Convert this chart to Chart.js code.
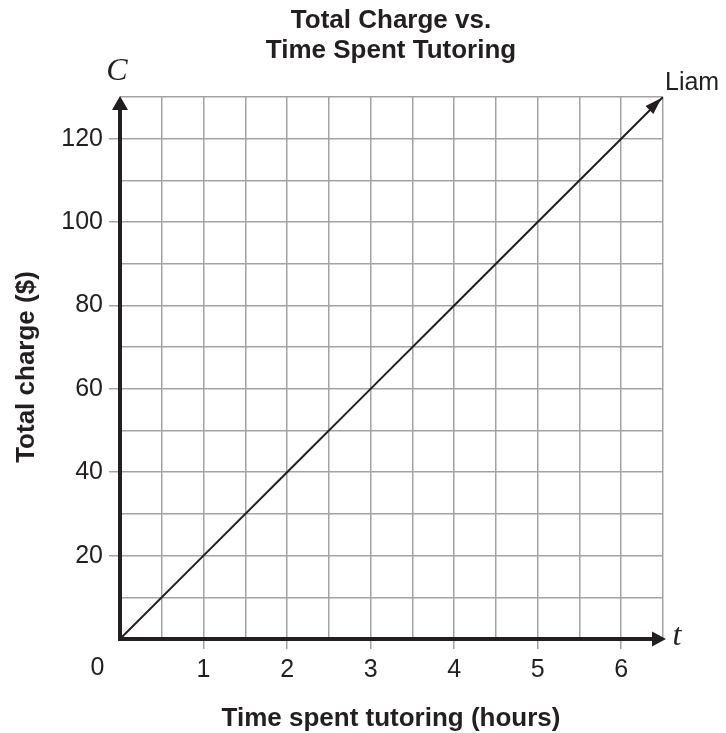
<!DOCTYPE html>
<html>
<head>
<meta charset="utf-8">
<title>Total Charge vs. Time Spent Tutoring</title>
<script src="https://cdn.jsdelivr.net/npm/chart.js@4.4.1/dist/chart.umd.min.js"></script>
<style>
  html, body { margin: 0; padding: 0; background: #fff; }
  canvas { display: block; }
</style>
</head>
<body>
<canvas id="chart" width="726" height="733"></canvas>
<script>
// values: $20 per hour
const hours = [0, 1, 2, 3, 4, 5, 6, 6.5];
const charge = [0, 20, 40, 60, 80, 100, 120, 130];
const xTickLabels = ['1', '2', '3', '4', '5', '6'];
const yTickLabels = ['20', '40', '60', '80', '100', '120'];
const originLabel = '0';
const seriesName = 'Liam';
const titleLines = ['Total Charge vs.', 'Time Spent Tutoring'];
const xTitle = 'Time spent tutoring (hours)';
const yTitle = 'Total charge ($)';
const xVar = 't';
const yVar = 'C';

const ink = '#231f20';
const gridGray = '#a3a3a3';
const sans = "'Liberation Sans', Arial, sans-serif";
const serif = "'Liberation Serif', 'Times New Roman', serif";

Chart.defaults.font.family = sans;
Chart.defaults.color = ink;

function triangle(ctx, tipX, tipY, angle, len, half) {
  ctx.save();
  ctx.translate(tipX, tipY);
  ctx.rotate(angle);
  ctx.beginPath();
  ctx.moveTo(0, 0);
  ctx.lineTo(-len, -half);
  ctx.lineTo(-len, half);
  ctx.closePath();
  ctx.fill();
  ctx.restore();
}

const decorations = {
  id: 'decorations',
  afterDatasetsDraw(chart) {
    const { ctx } = chart;
    const xs = chart.scales.x, ys = chart.scales.y;
    const x0 = xs.getPixelForValue(0), y0 = ys.getPixelForValue(0);
    const xMax = xs.getPixelForValue(xs.max), yMax = ys.getPixelForValue(ys.max);
    ctx.save();
    ctx.strokeStyle = ink;
    ctx.fillStyle = ink;
    ctx.lineWidth = 4;
    // axes with arrows
    ctx.beginPath();
    ctx.moveTo(x0, y0 + 2);
    ctx.lineTo(x0, yMax + 12);
    ctx.stroke();
    triangle(ctx, x0, yMax - 1, -Math.PI / 2, 14, 8);
    ctx.beginPath();
    ctx.moveTo(x0 - 2, y0);
    ctx.lineTo(xMax - 8, y0);
    ctx.stroke();
    triangle(ctx, xMax + 3, y0, 0, 14, 7.5);

    // arrow at the end of the line
    const n = hours.length;
    const ax = xs.getPixelForValue(hours[n - 1]), ay = ys.getPixelForValue(charge[n - 1]);
    const bx = xs.getPixelForValue(hours[n - 2]), by = ys.getPixelForValue(charge[n - 2]);
    triangle(ctx, ax - 1.5, ay + 1, Math.atan2(ay - by, ax - bx), 17, 5.5);
    ctx.restore();
  },
  afterDraw(chart) {
    const { ctx } = chart;
    const xs = chart.scales.x, ys = chart.scales.y;
    ctx.save();
    ctx.fillStyle = ink;
    ctx.textAlign = 'center';
    ctx.textBaseline = 'alphabetic';

    ctx.font = 'bold 26px ' + sans;
    ctx.fillText(titleLines[0], 391, 28);
    ctx.fillText(titleLines[1], 391, 58);
    ctx.fillText(xTitle, 391, 726);

    ctx.save();
    ctx.translate(34, 367);
    ctx.rotate(-Math.PI / 2);
    ctx.fillText(yTitle, 0, 0);
    ctx.restore();

    ctx.font = '25px ' + sans;
    ctx.fillText(originLabel, 97.5, 675);
    ctx.textAlign = 'left';
    ctx.fillText(seriesName, 665, 90);

    ctx.font = 'italic 32px ' + serif;
    ctx.textAlign = 'center';
    ctx.fillText(yVar, 117, 80);
    ctx.fillText(xVar, 677, 645);
    ctx.restore();
  }
};

const xLabel = (v) => xTickLabels.includes(String(v)) ? String(v) : '';
const yLabel = (v) => yTickLabels.includes(String(v)) ? String(v) : '';

new Chart(document.getElementById('chart'), {
  type: 'line',
  data: {
    datasets: [{
      label: seriesName,
      data: hours.map((h, i) => ({ x: h, y: charge[i] })),
      borderColor: ink,
      borderWidth: 2,
      pointRadius: 0,
      fill: false,
      tension: 0
    }]
  },
  options: {
    responsive: false,
    animation: false,
    devicePixelRatio: 1,
    layout: { padding: { top: 97, right: 63, left: 0, bottom: 0 } },
    plugins: {
      legend: { display: false },
      tooltip: { enabled: false },
      title: { display: false }
    },
    scales: {
      x: {
        type: 'linear',
        min: 0,
        max: 6.5,
        border: { display: false },
        grid: {
          color: gridGray,
          lineWidth: 1.5,
          tickLength: 10,
          tickColor: (c) => (c.tick && xLabel(c.tick.value)) ? gridGray : 'rgba(0,0,0,0)'
        },
        ticks: {
          stepSize: 0.5,
          autoSkip: false,
          maxRotation: 0,
          padding: 6,
          font: { size: 25 },
          color: ink,
          callback: xLabel
        },
        afterFit: (s) => { s.height = 94; s.paddingLeft = 0; s.paddingRight = 0; }
      },
      y: {
        type: 'linear',
        min: 0,
        max: 130,
        border: { display: false },
        grid: {
          color: gridGray,
          lineWidth: 1.5,
          tickLength: 11,
          tickColor: (c) => (c.tick && yLabel(c.tick.value)) ? gridGray : 'rgba(0,0,0,0)'
        },
        ticks: {
          stepSize: 10,
          autoSkip: false,
          padding: 6,
          font: { size: 25 },
          color: ink,
          callback: yLabel
        },
        afterFit: (s) => { s.width = 120; s.paddingTop = 0; s.paddingBottom = 0; }
      }
    }
  },
  plugins: [decorations]
});
</script>
</body>
</html>
